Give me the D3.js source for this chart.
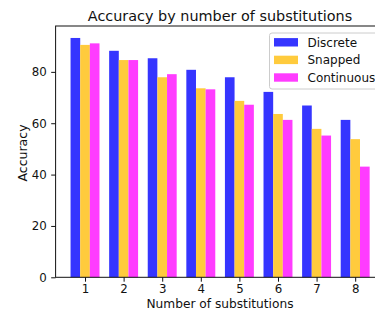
<!DOCTYPE html>
<html><head><meta charset="utf-8">
<script src="https://cdn.jsdelivr.net/npm/d3@7"></script>
<style>body{margin:0;background:#fff}svg{display:block}text{font-family:"DejaVu Sans",sans-serif;fill:#111}</style>
</head><body>
<script>
const categories = [1,2,3,4,5,6,7,8];
const seriesNames = ["Discrete","Snapped","Continuous"];
const discrete   = [93.2,88.2,85.3,80.8,77.9,72.2,66.9,61.3];
const snapped    = [90.5,84.6,77.9,73.6,68.7,63.6,57.8,53.8];
const continuous = [91.1,84.6,79.1,73.2,67.2,61.3,55.2,43.1];
const yTicks = [0,20,40,60,80];
const colors = ["#3535ff","#ffcb3d","#ff3cff"];

const W=375,H=310;
const svg=d3.select("body").append("svg").attr("width",W).attr("height",H);
const series=[discrete,snapped,continuous];
const barW=0.25;
const ymax=d3.max(series.flat())*1.05;
const x=d3.scaleLinear().domain([0.2375,8.7625]).range([55.6,384.6]);
const y=d3.scaleLinear().domain([0,ymax]).range([277.3,26]);

series.forEach((vals,si)=>{
  svg.append("g").selectAll("rect").data(vals).join("rect")
    .attr("x",(d,i)=>x(categories[i]+(si-1)*barW-barW/2))
    .attr("width",(d,i)=>x(categories[i]+barW)-x(categories[i]))
    .attr("y",d=>y(d))
    .attr("height",d=>y(0)-y(d))
    .attr("fill",colors[si]);
});

// axes
const ax=svg.append("g").attr("transform",`translate(0,${y(0)})`)
  .call(d3.axisBottom(x).tickValues(categories).tickSize(4.4).tickPadding(3.4).tickFormat(d3.format("d")));
const ay=svg.append("g").attr("transform",`translate(${x.range()[0]},0)`)
  .call(d3.axisLeft(y).tickValues(yTicks).tickSize(4.4).tickPadding(4.4));
[ax,ay].forEach(g=>{
  g.select(".domain").remove();
  g.selectAll("line").attr("stroke","#111");
  g.selectAll("text").style("font-size","11.8px").attr("fill","#111");
});
// spines
const [x0,x1]=x.range(),[yb,yt]=y.range();
svg.append("rect").attr("x",x0).attr("y",yt).attr("width",x1-x0).attr("height",yb-yt)
  .attr("fill","none").attr("stroke","#111").attr("stroke-width",1);

// titles
svg.append("text").attr("x",220).attr("y",20.5).attr("text-anchor","middle").style("font-size","14.4px").text("Accuracy by number of substitutions");
svg.append("text").attr("x",220).attr("y",307.5).attr("text-anchor","middle").style("font-size","12.2px").text("Number of substitutions");
svg.append("text").attr("transform","translate(27,153) rotate(-90)").attr("text-anchor","middle").style("font-size","12.5px").text("Accuracy");

// legend
const lg=svg.append("g");
lg.append("rect").attr("x",269.5).attr("y",33).attr("width",120).attr("height",56).attr("rx",2.5)
  .attr("fill","#fff").attr("fill-opacity",0.8).attr("stroke","#ccc").attr("stroke-width",1);
seriesNames.forEach((n,i)=>{
  const cy=42.3+i*17.6;
  lg.append("rect").attr("x",274).attr("y",cy-4.2).attr("width",24).attr("height",8.4).attr("fill",colors[i]);
  lg.append("text").attr("x",307.5).attr("y",cy+4.3).style("font-size","12px").text(n);
});
</script>
</body></html>
